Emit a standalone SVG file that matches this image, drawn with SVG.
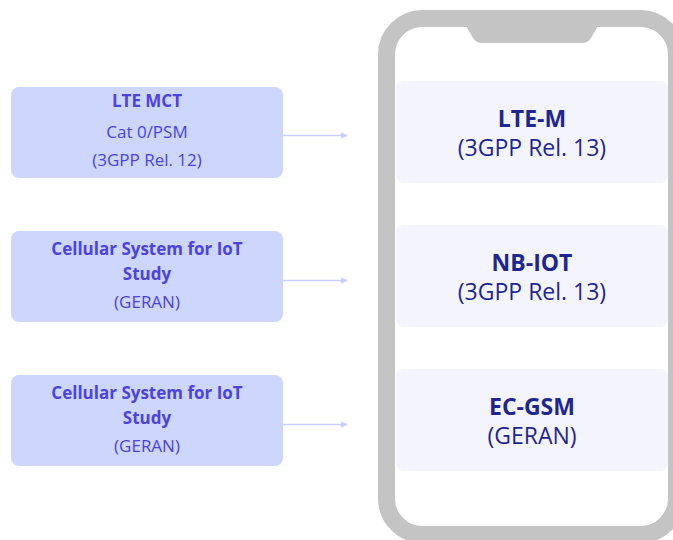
<svg xmlns="http://www.w3.org/2000/svg" width="673" height="540" viewBox="0 0 673 540">
<defs>
<style>
.lb{fill:#cdd6fd}
.rb{fill:#f4f4fd}
.lt{font-family:"Open Sans","Noto Sans",sans-serif;font-size:17px;fill:#4a43e0;text-anchor:middle}
.ltb{font-weight:bold}
.rt{font-family:"Open Sans","Noto Sans",sans-serif;font-size:23px;fill:#1f2690;text-anchor:middle}
.rtb{font-weight:bold}
.conn{stroke:#c6cffb;stroke-width:1.5;fill:none}
</style>
<marker id="ah" viewBox="0 0 10 10" refX="9" refY="5" markerWidth="7" markerHeight="7" orient="auto" markerUnits="userSpaceOnUse">
<path d="M0,0 L10,5 L0,10 z" fill="#c6cffb"/>
</marker>
</defs>
<rect width="673" height="540" fill="#ffffff"/>
<g id="phone">
<rect x="386.5" y="18.5" width="290" height="516" rx="36" fill="#ffffff" stroke="#c4c4c4" stroke-width="17"/>
<path d="M466,26 L598,26 L591,38 Q588,43 582,43 L482,43 Q476,43 473,38 Z" fill="#c4c4c4"/>
</g>
<g id="connectors">
<line class="conn" x1="283" y1="135.5" x2="347" y2="135.5" marker-end="url(#ah)"/>
<line class="conn" x1="283" y1="280.5" x2="347" y2="280.5" marker-end="url(#ah)"/>
<line class="conn" x1="283" y1="424.5" x2="347" y2="424.5" marker-end="url(#ah)"/>
</g>
<g id="lte-mct">
<rect class="lb" x="11" y="87" width="272" height="91" rx="8"/>
<text class="lt ltb" x="147" y="107">LTE MCT</text>
<text class="lt" x="147" y="138">Cat 0/PSM</text>
<text class="lt" x="147" y="166">(3GPP Rel. 12)</text>
</g>
<g id="ciot-1">
<rect class="lb" x="11" y="231" width="272" height="91" rx="8"/>
<text class="lt ltb" x="147" y="255">Cellular System for IoT</text>
<text class="lt ltb" x="147" y="280">Study</text>
<text class="lt" x="147" y="308">(GERAN)</text>
</g>
<g id="ciot-2">
<rect class="lb" x="11" y="375" width="272" height="91" rx="8"/>
<text class="lt ltb" x="147" y="399">Cellular System for IoT</text>
<text class="lt ltb" x="147" y="424">Study</text>
<text class="lt" x="147" y="452">(GERAN)</text>
</g>
<g id="lte-m">
<rect class="rb" x="396" y="81" width="272" height="102" rx="8"/>
<text class="rt rtb" x="532" y="127">LTE-M</text>
<text class="rt" x="532" y="156">(3GPP Rel. 13)</text>
</g>
<g id="nb-iot">
<rect class="rb" x="396" y="225" width="272" height="102" rx="8"/>
<text class="rt rtb" x="532" y="271">NB-IOT</text>
<text class="rt" x="532" y="300">(3GPP Rel. 13)</text>
</g>
<g id="ec-gsm">
<rect class="rb" x="396" y="369" width="272" height="102" rx="8"/>
<text class="rt rtb" x="532" y="415">EC-GSM</text>
<text class="rt" x="532" y="444">(GERAN)</text>
</g>
</svg>
